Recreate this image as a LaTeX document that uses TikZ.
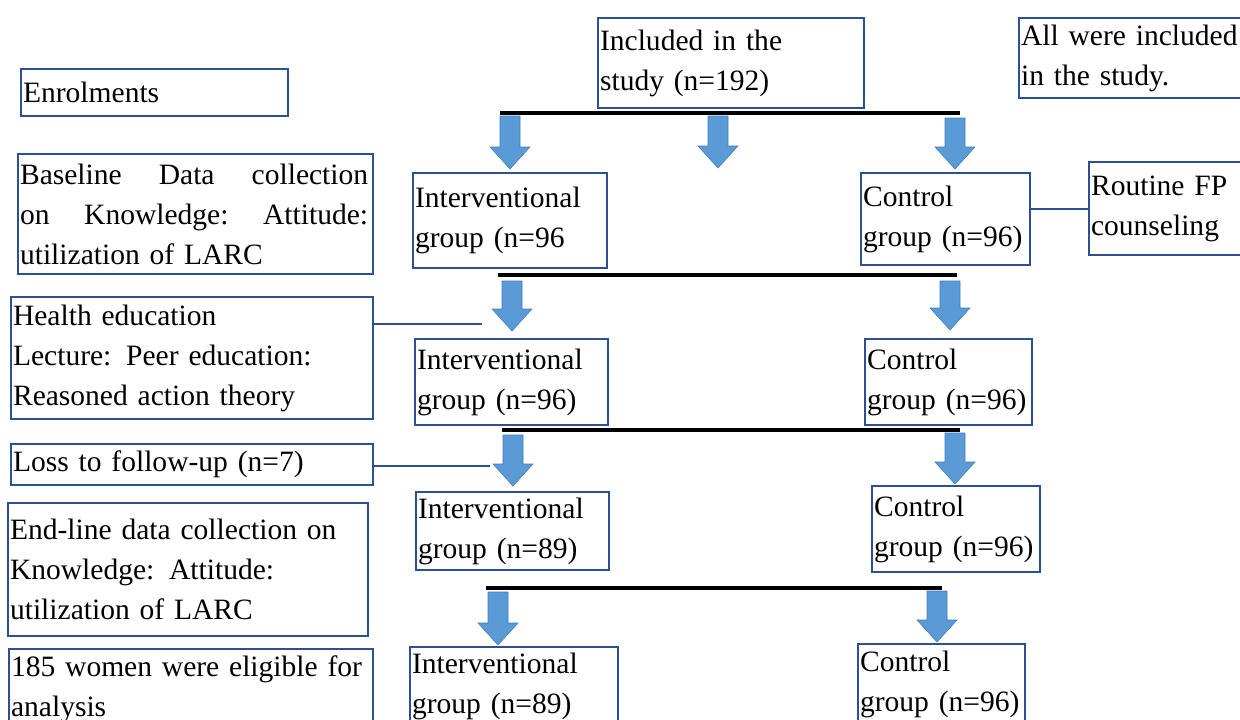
\documentclass[tikz,border=0pt]{standalone}
\usepackage{fontspec}
\setmainfont{Liberation Serif}
\usepackage{xcolor}
\usetikzlibrary{positioning,calc}

\definecolor{boxblue}{RGB}{44,80,145}
\definecolor{arrowfill}{RGB}{91,155,213}
\definecolor{arrowline}{RGB}{65,125,190}

\tikzset{
  stagebox/.style={draw=boxblue,line width=1.5pt,anchor=north west,align=left,
    inner xsep=0.05cm,inner ysep=0pt,font=\fontsize{21}{28.5}\selectfont},
  splitbar/.style={line width=2.6pt,black},
  sidelink/.style={draw=boxblue,line width=1.5pt},
  blockarrow/.style={fill=arrowfill,draw=arrowline,line width=0.4pt}
}

\begin{document}
\begin{tikzpicture}[x=0.025cm,y=-0.025cm]
  \useasboundingbox (0,0) rectangle (1240,719);
  \clip (0,0) rectangle (1240,719);

  % left column: stages
  \node[stagebox,text width=6.575cm,minimum width=6.675cm,minimum height=1.175cm] (enrol) at (20,68) {Enrolments};
  \node[stagebox,text width=8.775cm,minimum width=8.875cm,minimum height=3cm] (base) at (17,153)
    {\makebox[8.7cm][l]{Baseline\hfill Data\hfill collection}\\\makebox[8.7cm][l]{on\hfill Knowledge:\hfill Attitude:}\\utilization of LARC};
  \node[stagebox,text width=8.95cm,minimum width=9.05cm,minimum height=3.05cm] (health) at (10,296)
    {Health education\\Lecture: Peer education:\\Reasoned action theory};
  \node[stagebox,text width=8.95cm,minimum width=9.05cm,minimum height=1.025cm] (loss) at (10,443) {Loss to follow-up (n=7)};
  \node[stagebox,text width=8.9cm,minimum width=9cm,minimum height=3.325cm] (endl) at (7,502)
    {End-line data collection on\\Knowledge: Attitude:\\utilization of LARC};
  \node[stagebox,text width=9cm,minimum width=9.1cm,minimum height=2cm] (elig) at (8,648)
    {185 women were eligible for\\analysis};

  % groups
  \node[stagebox,text width=6.55cm,minimum width=6.65cm,minimum height=2.25cm] (incl) at (597,17) {Included in the\\study (n=192)};
  \node[stagebox,text width=5.65cm,minimum width=5.75cm,minimum height=2cm] (allin) at (1018,17) {All were included\\in the study.};
  \node[stagebox,text width=4.75cm,minimum width=4.85cm,minimum height=2.375cm] (int1) at (412,172) {Interventional\\group (n=96};
  \node[stagebox,text width=4.125cm,minimum width=4.225cm,minimum height=2.3cm] (ctl1) at (860,172) {Control\\group (n=96)};
  \node[stagebox,text width=3.9cm,minimum width=4cm,minimum height=2.325cm] (rout) at (1088,161) {Routine FP\\counseling};
  \node[stagebox,text width=4.725cm,minimum width=4.825cm,minimum height=2.15cm] (int2) at (414,338) {Interventional\\group (n=96)};
  \node[stagebox,text width=4.075cm,minimum width=4.175cm,minimum height=2.15cm] (ctl2) at (864,338) {Control\\group (n=96)};
  \node[stagebox,text width=4.725cm,minimum width=4.825cm,minimum height=1.95cm] (int3) at (415,491) {Interventional\\group (n=89)};
  \node[stagebox,text width=4.1cm,minimum width=4.2cm,minimum height=2.15cm] (ctl3) at (871,485) {Control\\group (n=96)};
  \node[stagebox,text width=5.1cm,minimum width=5.2cm,minimum height=1.975cm] (int4) at (409,646) {Interventional\\group (n=89)};
  \node[stagebox,text width=4.075cm,minimum width=4.175cm,minimum height=2cm] (ctl4) at (857,643) {Control\\group (n=96)};

  % split bars
  \coordinate (bar1w) at (500,113); \coordinate (bar1e) at (960,113);
  \coordinate (bar2w) at (498,275); \coordinate (bar2e) at (957,275);
  \coordinate (bar3w) at (502,430); \coordinate (bar3e) at (960,430);
  \coordinate (bar4w) at (486,588); \coordinate (bar4e) at (942,588);
  \foreach \n in {1,2,3,4}
    \draw[splitbar] (bar\n w) -- (bar\n e);

  % block arrows
  \foreach \ax/\ay/\by in {510/116/169,718/116/168,955/118/169,512/281/331,950/281/330,
                           513/435/486,955/433/484,498/592/645,937/591/642}
    \filldraw[blockarrow] (\ax-10,\ay) -- (\ax+10,\ay) -- (\ax+10,\by-22) -- (\ax+20,\by-22)
      -- (\ax,\by) -- (\ax-20,\by-22) -- (\ax-10,\by-22) -- cycle;

  % side links
  \coordinate (healthend) at (482,324);
  \coordinate (lossend) at (490,466);
  \draw[sidelink] (rout.west -| ctl1.east) -- (rout.west);
  \draw[sidelink] (healthend -| health.east) -- (healthend);
  \draw[sidelink] (lossend -| loss.east) -- (lossend);
\end{tikzpicture}
\end{document}
